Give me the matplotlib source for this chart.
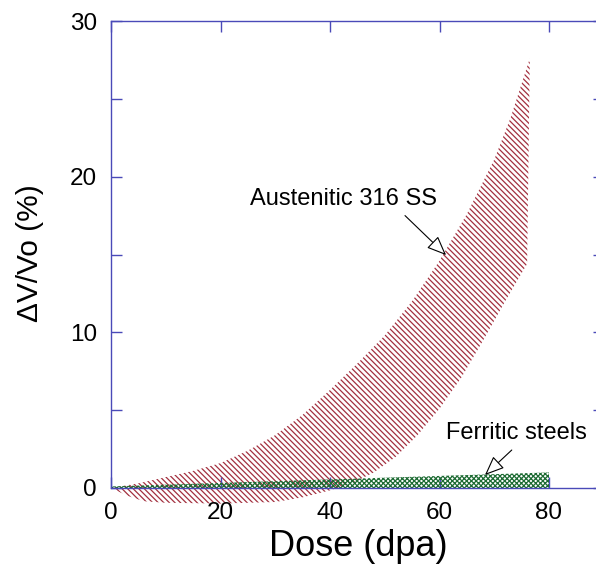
import matplotlib
matplotlib.use("Agg")
import matplotlib.pyplot as plt
from matplotlib.ticker import MultipleLocator

plt.rcParams['font.family'] = ['Liberation Sans', 'DejaVu Sans']
plt.rcParams['hatch.linewidth'] = 0.9

# Austenitic 316 SS band (upper and lower bounds)
aus_upper_x = [0, 5, 10, 15, 20, 25, 30, 35, 40, 45, 50, 55, 60, 65, 70, 73, 76.5]
aus_upper_y = [0, 0.3, 0.7, 1.1, 1.6, 2.4, 3.4, 4.7, 6.3, 8.0, 9.8, 12.0, 14.6, 17.6, 21.1, 23.8, 27.6]
aus_lower_x = [0, 3, 6, 10, 20, 30, 35, 40, 44, 48, 52, 56, 60, 64, 68, 72, 76]
aus_lower_y = [0, -0.5, -0.85, -0.95, -1.0, -0.9, -0.6, -0.15, 0.3, 1.0, 2.0, 3.4, 5.1, 7.1, 9.5, 12.0, 14.4]

# Ferritic steels band
fer_x = [0, 40, 80]
fer_upper = [0.1, 0.55, 1.0]
fer_lower = [0, 0, 0]

xticks = [0, 20, 40, 60, 80]
yticks = [0, 10, 20, 30]

spine_col = '#4a4ab8'
red = '#a3303f'
green = '#1d6b33'

fig = plt.figure(figsize=(5.96, 5.68), dpi=100)
ax = fig.add_axes([111/596, 80/568, 492.75/596, 467/568])

poly_x = aus_upper_x + aus_lower_x[::-1]
poly_y = aus_upper_y + aus_lower_y[::-1]
ax.fill(poly_x, poly_y, facecolor='none', edgecolor=red, hatch='\\\\\\\\\\\\',
        linewidth=0, clip_on=False, zorder=1)

fx = fer_x + fer_x[::-1]
fy = fer_upper + fer_lower[::-1]
ax.fill(fx, fy, facecolor='none', edgecolor=green, hatch='xxxxxxx',
        linewidth=0, clip_on=False, zorder=2)

ax.set_xlim(0, 90)
ax.set_ylim(0, 30)
ax.set_xticks(xticks)
ax.set_yticks(yticks)
ax.yaxis.set_minor_locator(MultipleLocator(5))
for s in ax.spines.values():
    s.set_color(spine_col)
    s.set_linewidth(1.0)
    s.set_zorder(3)
ax.tick_params(which='both', direction='in', top=True, right=True, length=8,
               width=1.0, color=spine_col, labelsize=17.5, pad=10)
ax.tick_params(axis='x', pad=10)

fig.text(358/596, 1 - 547/568, 'Dose (dpa)', fontsize=26, ha='center', va='center')
fig.text(30/596, 1 - 253/568, 'ΔV/Vo (%)', fontsize=21.5, ha='center', va='center',
         rotation=90)

ax.text(42.4, 18.56, 'Austenitic 316 SS', fontsize=17, ha='center', va='center')
ax.annotate('', xy=(61.2, 14.96), xytext=(53.7, 17.5),
            arrowprops=dict(arrowstyle='-|>,head_length=0.6,head_width=0.25',
                            fc='white', ec='black', lw=0.8, mutation_scale=20,
                            shrinkA=0, shrinkB=0))
ax.text(74.0, 3.53, 'Ferritic steels', fontsize=17, ha='center', va='center')
ax.annotate('', xy=(68.3, 0.83), xytext=(73.2, 2.44),
            arrowprops=dict(arrowstyle='-|>,head_length=0.6,head_width=0.25',
                            fc='white', ec='black', lw=0.8, mutation_scale=20,
                            shrinkA=0, shrinkB=0))

fig.savefig('out.png', dpi=100)
